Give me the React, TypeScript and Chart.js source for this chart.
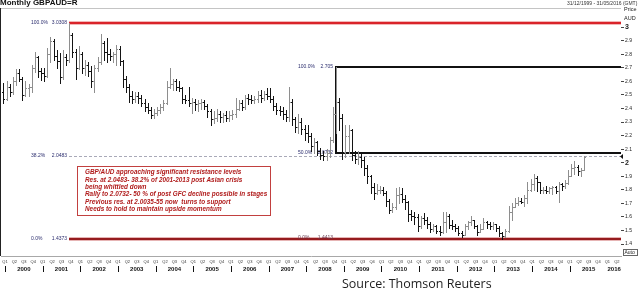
import React, { useEffect, useRef } from 'react';
import { Chart, registerables } from 'chart.js';

Chart.register(...registerables);

const FONT = '"Liberation Sans", Arial, Helvetica, sans-serif';

// One OHLC bar per month, first bar = December 1999, last bar = May 2015
const firstYear = 1999;
const firstMonth = 12;

const opens = [
  2.52,
  2.47, 2.56, 2.52, 2.60, 2.66, 2.62, 2.50, 2.55, 2.56, 2.70, 2.78, 2.68,
  2.66, 2.64, 2.80, 2.90, 2.79, 2.75, 2.63, 2.78, 2.76, 2.94, 2.82, 2.70,
  2.80, 2.70, 2.72, 2.68, 2.60, 2.70, 2.74, 2.88, 2.82, 2.80, 2.79, 2.80,
  2.84, 2.75, 2.62, 2.56, 2.49, 2.47, 2.49, 2.48, 2.44, 2.41, 2.39, 2.35,
  2.37, 2.39, 2.41, 2.44, 2.56, 2.58, 2.60, 2.56, 2.55, 2.47, 2.46, 2.44,
  2.45, 2.43, 2.44, 2.45, 2.42, 2.38, 2.32, 2.33, 2.36, 2.34, 2.35, 2.33,
  2.35, 2.36, 2.40, 2.44, 2.41, 2.48, 2.47, 2.46, 2.47, 2.50, 2.48, 2.51,
  2.49, 2.47, 2.42, 2.39, 2.38, 2.36, 2.34, 2.45, 2.32, 2.26, 2.30, 2.25,
  2.22, 2.20, 2.12, 2.15, 2.09, 2.06, 2.05, 2.07, 2.17, 2.36, 2.45, 2.33,
  2.08, 2.20, 2.24, 2.06, 2.03, 2.04, 2.02, 1.96, 1.90, 1.82, 1.78, 1.80,
  1.80, 1.78, 1.72, 1.65, 1.67, 1.76, 1.77, 1.73, 1.71, 1.62, 1.61, 1.60,
  1.53, 1.59, 1.58, 1.55, 1.51, 1.53, 1.50, 1.49, 1.56, 1.61, 1.54, 1.53,
  1.52, 1.48, 1.47, 1.53, 1.56, 1.58, 1.53, 1.49, 1.51, 1.56, 1.55, 1.53,
  1.55, 1.52, 1.48, 1.46, 1.50, 1.64, 1.67, 1.70, 1.72, 1.71, 1.74, 1.80,
  1.84, 1.89, 1.86, 1.80, 1.80, 1.79, 1.81, 1.82, 1.79, 1.84, 1.83, 1.85,
  1.90, 1.96, 1.97, 1.94, 1.95,
];

const highs = [
  2.59,
  2.60, 2.58, 2.63, 2.69, 2.69, 2.63, 2.60, 2.58, 2.72, 2.82, 2.79, 2.70,
  2.70, 2.85, 2.93, 2.91, 2.83, 2.81, 2.83, 2.80, 3.0308, 2.96, 2.84, 2.86,
  2.82, 2.76, 2.74, 2.71, 2.72, 2.78, 2.95, 2.90, 2.92, 2.84, 2.82, 2.87,
  2.86, 2.76, 2.64, 2.58, 2.53, 2.52, 2.52, 2.50, 2.47, 2.44, 2.41, 2.40,
  2.41, 2.43, 2.46, 2.60, 2.70, 2.62, 2.62, 2.60, 2.56, 2.50, 2.56, 2.48,
  2.47, 2.46, 2.47, 2.46, 2.43, 2.40, 2.38, 2.40, 2.38, 2.37, 2.38, 2.38,
  2.39, 2.48, 2.46, 2.46, 2.50, 2.51, 2.50, 2.49, 2.53, 2.54, 2.53, 2.55,
  2.55, 2.49, 2.44, 2.42, 2.41, 2.39, 2.56, 2.47, 2.34, 2.36, 2.33, 2.28,
  2.28, 2.22, 2.18, 2.16, 2.11, 2.09, 2.10, 2.19, 2.41, 2.705, 2.48, 2.36,
  2.28, 2.28, 2.25, 2.09, 2.09, 2.07, 2.04, 1.98, 1.91, 1.85, 1.84, 1.83,
  1.82, 1.79, 1.73, 1.70, 1.81, 1.82, 1.81, 1.76, 1.72, 1.65, 1.64, 1.62,
  1.61, 1.63, 1.60, 1.56, 1.55, 1.54, 1.53, 1.64, 1.64, 1.62, 1.58, 1.55,
  1.53, 1.50, 1.55, 1.57, 1.61, 1.58, 1.54, 1.55, 1.59, 1.57, 1.56, 1.56,
  1.55, 1.53, 1.49, 1.51, 1.68, 1.70, 1.74, 1.75, 1.74, 1.76, 1.86, 1.88,
  1.92, 1.90, 1.86, 1.82, 1.83, 1.82, 1.83, 1.83, 1.86, 1.85, 1.87, 1.95,
  1.99, 2.01, 1.98, 1.96, 2.05,
];

const lows = [
  2.44,
  2.46, 2.49, 2.51, 2.57, 2.60, 2.46, 2.49, 2.49, 2.52, 2.67, 2.63, 2.61,
  2.60, 2.63, 2.74, 2.76, 2.70, 2.59, 2.62, 2.72, 2.74, 2.78, 2.62, 2.69,
  2.66, 2.65, 2.64, 2.56, 2.52, 2.68, 2.73, 2.76, 2.74, 2.76, 2.74, 2.72,
  2.72, 2.56, 2.52, 2.45, 2.44, 2.45, 2.44, 2.42, 2.38, 2.37, 2.33, 2.33,
  2.35, 2.37, 2.39, 2.43, 2.55, 2.54, 2.54, 2.53, 2.44, 2.44, 2.42, 2.37,
  2.39, 2.38, 2.40, 2.40, 2.34, 2.28, 2.29, 2.31, 2.30, 2.30, 2.31, 2.31,
  2.32, 2.34, 2.39, 2.39, 2.40, 2.43, 2.44, 2.44, 2.45, 2.45, 2.46, 2.47,
  2.45, 2.39, 2.36, 2.35, 2.32, 2.31, 2.31, 2.28, 2.23, 2.22, 2.21, 2.17,
  2.15, 2.09, 2.07, 2.06, 2.03, 2.02, 2.02, 2.04, 2.15, 2.22, 2.24, 2.03,
  2.04, 2.07, 2.02, 2.00, 1.99, 1.97, 1.91, 1.85, 1.78, 1.73, 1.77, 1.78,
  1.76, 1.68, 1.63, 1.64, 1.66, 1.70, 1.71, 1.66, 1.57, 1.58, 1.55, 1.50,
  1.52, 1.55, 1.52, 1.49, 1.50, 1.48, 1.47, 1.48, 1.49, 1.52, 1.51, 1.50,
  1.47, 1.455, 1.47, 1.51, 1.54, 1.52, 1.47, 1.49, 1.51, 1.52, 1.51, 1.51,
  1.50, 1.46, 1.4373, 1.45, 1.49, 1.58, 1.67, 1.69, 1.70, 1.68, 1.70, 1.79,
  1.80, 1.79, 1.78, 1.78, 1.78, 1.78, 1.77, 1.78, 1.71, 1.80, 1.81, 1.84,
  1.90, 1.92, 1.91, 1.90, 1.95,
];

const closes = [
  2.47,
  2.56, 2.52, 2.60, 2.66, 2.62, 2.50, 2.55, 2.56, 2.70, 2.78, 2.68, 2.66,
  2.64, 2.80, 2.90, 2.79, 2.75, 2.63, 2.78, 2.76, 2.94, 2.82, 2.70, 2.80,
  2.70, 2.72, 2.68, 2.60, 2.70, 2.74, 2.88, 2.82, 2.80, 2.79, 2.80, 2.84,
  2.75, 2.62, 2.56, 2.49, 2.47, 2.49, 2.48, 2.44, 2.41, 2.39, 2.35, 2.37,
  2.39, 2.41, 2.44, 2.56, 2.58, 2.60, 2.56, 2.55, 2.47, 2.46, 2.44, 2.45,
  2.43, 2.44, 2.45, 2.42, 2.38, 2.32, 2.33, 2.36, 2.34, 2.35, 2.33, 2.35,
  2.36, 2.40, 2.44, 2.41, 2.48, 2.47, 2.46, 2.47, 2.50, 2.48, 2.51, 2.49,
  2.47, 2.42, 2.39, 2.38, 2.36, 2.34, 2.45, 2.32, 2.26, 2.30, 2.25, 2.22,
  2.20, 2.12, 2.15, 2.09, 2.06, 2.05, 2.07, 2.17, 2.36, 2.45, 2.33, 2.08,
  2.20, 2.24, 2.06, 2.03, 2.04, 2.02, 1.96, 1.90, 1.82, 1.78, 1.80, 1.80,
  1.78, 1.72, 1.65, 1.67, 1.76, 1.77, 1.73, 1.71, 1.62, 1.61, 1.60, 1.53,
  1.59, 1.58, 1.55, 1.51, 1.53, 1.50, 1.49, 1.56, 1.61, 1.54, 1.53, 1.52,
  1.48, 1.47, 1.53, 1.56, 1.58, 1.53, 1.49, 1.51, 1.56, 1.55, 1.53, 1.55,
  1.52, 1.48, 1.46, 1.50, 1.64, 1.67, 1.70, 1.72, 1.71, 1.74, 1.80, 1.84,
  1.89, 1.86, 1.80, 1.80, 1.79, 1.81, 1.82, 1.79, 1.84, 1.83, 1.85, 1.90,
  1.96, 1.97, 1.94, 1.95, 2.04,
];

const yTicks = [1.4, 1.5, 1.6, 1.7, 1.8, 1.9, 2, 2.1, 2.2, 2.3, 2.4, 2.5, 2.6, 2.7, 2.8, 2.9, 3];
const yearLabels = [2000, 2001, 2002, 2003, 2004, 2005, 2006, 2007, 2008, 2009, 2010, 2011, 2012, 2013, 2014, 2015, 2016];
const quarterNames = ['Q1', 'Q2', 'Q3', 'Q4'];

// Fibonacci retracements
const redFibStart = '2001-09';
const redFibPcts = ['100.0%', '38.2%', '0.0%'];
const redFibValues = [3.0308, 2.0483, 1.4373];
const blackFibStart = '2008-10';
const blackFibPcts = ['100.0%', '50.0%', '0.0%'];
const blackFibValues = [2.705, 2.0732, 1.4413];

const noteLines = [
  'GBP/AUD approaching significant resistance levels',
  'Res. at 2.0483- 38.2% of 2001-2013 post Asian crisis',
  'being whittled down',
  'Rally to 2.0732- 50 % of post GFC decline possible in stages',
  'Previous res. at 2.0035-55 now  turns to support',
  'Needs to hold to maintain upside momentum',
];

const titleText = 'Monthly GBPAUD=R';
const rangeText = '31/12/1999 - 31/05/2016 (GMT)';
const unitLines = ['Price', 'AUD'];
const sourceText = 'Source: Thomson Reuters';

const X_MIN = 1999.8938;
const X_MAX = 2016.3612;
const Y_MIN = 1.3119;
const Y_MAX = 3.1415;

const UP_COLOR = '#8e8e8e';
const DOWN_COLOR = '#141414';

function monthX(k: number) {
  const m = firstMonth - 1 + k;
  return firstYear + (m + 0.5) / 12;
}
function dateX(s: string) {
  const [y, m] = s.split('-').map(Number);
  return y + (m - 1 + 0.5) / 12;
}

const quarterTicks = yearLabels
  .flatMap((y) => [0, 1, 2, 3].map((q) => y + q / 4))
  .filter((v) => v <= X_MAX);

const ohlcPlugin = {
  id: 'ohlc',
  beforeDatasetsDraw(chart: any) {
    const { ctx, chartArea: ca, scales } = chart;
    const x = scales.x;
    const y = scales.y;
    ctx.save();
    // frame
    ctx.fillStyle = '#c4c4c4';
    ctx.fillRect(0, ca.top, ca.right, 1);
    ctx.fillStyle = '#222';
    ctx.fillRect(0, ca.top, 1, ca.bottom - ca.top);

    // red fib
    const rx = Math.round(x.getPixelForValue(dateX(redFibStart)));
    redFibValues.forEach((v, i) => {
      const py = Math.round(y.getPixelForValue(v));
      if (i === 1) {
        ctx.strokeStyle = '#a9a9b8';
        ctx.lineWidth = 1;
        ctx.setLineDash([3, 2]);
        ctx.beginPath();
        ctx.moveTo(rx, py + 0.5);
        ctx.lineTo(ca.right, py + 0.5);
        ctx.stroke();
        ctx.setLineDash([]);
      } else {
        ctx.fillStyle = i === 0 ? '#f3b7b7' : '#e6b4b4';
        ctx.fillRect(rx, py - 2, ca.right - rx, 4);
        ctx.fillStyle = i === 0 ? '#d9232a' : '#951b1e';
        ctx.fillRect(rx, py - 1, ca.right - rx, 2);
      }
      ctx.fillStyle = '#2b2d6e';
      ctx.font = `5px ${FONT}`;
      ctx.textBaseline = 'middle';
      ctx.textAlign = 'left';
      ctx.fillText(redFibPcts[i], rx - 38, py);
      ctx.textAlign = 'right';
      ctx.fillText(String(v.toFixed(4)), rx - 2, py);
    });

    // black fib
    const bx = Math.round(x.getPixelForValue(dateX(blackFibStart)));
    const bTop = Math.round(y.getPixelForValue(blackFibValues[0]));
    const bMid = Math.round(y.getPixelForValue(blackFibValues[1]));
    ctx.fillStyle = '#111';
    ctx.fillRect(bx - 1, bTop - 1, ca.right - bx + 1, 2);
    ctx.fillRect(bx - 1, bMid - 1, ca.right - bx + 1, 2);
    ctx.fillRect(bx - 1, bTop - 1, 2, bMid - bTop + 1);
    blackFibValues.forEach((v, i) => {
      const py = Math.round(y.getPixelForValue(v));
      ctx.fillStyle = i === 2 ? '#6a3a50' : '#2b2d6e';
      ctx.font = `5px ${FONT}`;
      ctx.textBaseline = 'middle';
      ctx.textAlign = 'left';
      ctx.fillText(blackFibPcts[i], bx - 38, py);
      ctx.textAlign = 'right';
      const txt = i === 0 ? String(v) : v.toFixed(4);
      ctx.fillText(txt, bx - 3, py);
    });
    ctx.restore();
  },
  afterDatasetsDraw(chart: any) {
    const { ctx, chartArea: ca, scales } = chart;
    const x = scales.x;
    const y = scales.y;
    ctx.save();
    ctx.beginPath();
    ctx.rect(ca.left, ca.top, ca.right - ca.left, ca.bottom - ca.top);
    ctx.clip();
    for (let k = 0; k < closes.length; k++) {
      const px = Math.round(x.getPixelForValue(monthX(k)));
      const yh = Math.round(y.getPixelForValue(highs[k]));
      const yl = Math.round(y.getPixelForValue(lows[k]));
      const yo = Math.round(y.getPixelForValue(opens[k]));
      const yc = Math.round(y.getPixelForValue(closes[k]));
      ctx.fillStyle = closes[k] >= opens[k] ? UP_COLOR : DOWN_COLOR;
      ctx.fillRect(px, yh, 1, Math.max(1, yl - yh + 1));
      ctx.fillRect(px - 1, yo, 1, 1);
      ctx.fillRect(px + 1, yc, 1, 1);
    }
    ctx.restore();
  },
  afterDraw(chart: any) {
    const { ctx, chartArea: ca, scales } = chart;
    const x = scales.x;
    const y = scales.y;
    ctx.save();

    // note box
    ctx.strokeStyle = '#c2403f';
    ctx.lineWidth = 1;
    ctx.strokeRect(77.5, 166.5, 193, 49);
    ctx.fillStyle = '#b01c1c';
    ctx.font = `italic bold 6.4px ${FONT}`;
    ctx.textAlign = 'left';
    ctx.textBaseline = 'middle';
    noteLines.forEach((t, i) => ctx.fillText(t, 85, 172.7 + i * 7.3));

    // years and separators
    ctx.fillStyle = '#111';
    ctx.font = `bold 6px ${FONT}`;
    ctx.textAlign = 'center';
    yearLabels.forEach((yr) => {
      const s = x.getPixelForValue(yr);
      const e = Math.min(x.getPixelForValue(yr + 1), ca.right);
      ctx.fillText(String(yr), (s + e) / 2, 269.5);
      if (yr < 2016) ctx.fillRect(Math.round(s), 266, 1, 6);
    });

    // title + range
    ctx.textAlign = 'left';
    ctx.textBaseline = 'alphabetic';
    ctx.font = `bold 8px ${FONT}`;
    ctx.fillStyle = '#111';
    ctx.fillText(titleText, 0, 5);
    ctx.font = `5px ${FONT}`;
    ctx.fillStyle = '#333';
    ctx.fillText(rangeText, 567, 5);

    // unit label
    ctx.font = `5.5px ${FONT}`;
    ctx.fillStyle = '#222';
    ctx.textBaseline = 'middle';
    unitLines.forEach((t, i) => ctx.fillText(t, 624, 9.5 + i * 8.5));

    // current price marker
    const my = Math.round(y.getPixelForValue(redFibValues[1]));
    ctx.fillStyle = '#111';
    ctx.beginPath();
    ctx.moveTo(ca.right - 1, my + 0.5);
    ctx.lineTo(ca.right + 2, my - 2);
    ctx.lineTo(ca.right + 2, my + 3);
    ctx.closePath();
    ctx.fill();

    // Auto box
    ctx.strokeStyle = '#666';
    ctx.strokeRect(623.5, 249.5, 14, 6);
    ctx.fillStyle = '#222';
    ctx.font = `5px ${FONT}`;
    ctx.fillText('Auto', 624.5, 252.8);

    // source
    ctx.font = `12.5px "Open Sans", ${FONT}`;
    ctx.fillStyle = '#1e1e1e';
    ctx.textBaseline = 'alphabetic';
    ctx.fillText(sourceText, 342, 287.5);
    ctx.restore();
  },
};

export default function App() {
  const ref = useRef<HTMLCanvasElement | null>(null);
  useEffect(() => {
    const canvas = ref.current;
    if (!canvas) return;
    const chart = new Chart(canvas, {
      type: 'line',
      data: {
        datasets: [
          {
            data: closes.map((c, k) => ({ x: monthX(k), y: c })),
            showLine: false,
            pointRadius: 0,
            borderColor: 'rgba(0,0,0,0)',
            backgroundColor: 'rgba(0,0,0,0)',
          },
        ],
      },
      options: {
        animation: false,
        responsive: false,
        maintainAspectRatio: false,
        events: [],
        layout: { padding: { left: 1, top: 8, right: 0, bottom: 0 } },
        plugins: { legend: { display: false }, tooltip: { enabled: false }, title: { display: false } },
        scales: {
          x: {
            type: 'linear',
            min: X_MIN,
            max: X_MAX,
            afterBuildTicks: (s: any) => {
              s.ticks = quarterTicks.map((value) => ({ value }));
            },
            afterFit: (s: any) => {
              s.height = 46;
              s.paddingLeft = 0;
              s.paddingRight = 0;
            },
            ticks: {
              autoSkip: false,
              maxRotation: 0,
              minRotation: 0,
              padding: 3,
              color: '#333',
              font: { size: 4, family: FONT },
              callback: (v: any) => {
                const val = Number(v);
                const q = Math.round((val - Math.floor(val + 1e-6)) * 4);
                return quarterNames[((q % 4) + 4) % 4];
              },
            },
            grid: { display: false, drawTicks: false },
            border: { display: true, color: '#a8a8a8' },
          },
          y: {
            type: 'linear',
            position: 'right',
            min: Y_MIN,
            max: Y_MAX,
            afterBuildTicks: (s: any) => {
              s.ticks = yTicks.map((value) => ({ value }));
            },
            afterFit: (s: any) => {
              s.width = 19;
              s.paddingTop = 0;
              s.paddingBottom = 0;
            },
            ticks: {
              padding: 1,
              color: '#222',
              font: (c: any) => {
                const v = c.tick ? c.tick.value : 0;
                const isInt = Math.abs(v - Math.round(v)) < 1e-9;
                return isInt ? { size: 7, family: FONT, weight: 'bold' } : { size: 5, family: FONT };
              },
              callback: (v: any) => {
                const val = Number(v);
                return Math.abs(val - Math.round(val)) < 1e-9 ? String(Math.round(val)) : val.toFixed(1);
              },
            },
            grid: { drawOnChartArea: false, drawTicks: true, tickLength: 3, color: '#444' },
            border: { display: false },
          },
        },
      },
      plugins: [ohlcPlugin],
    });
    return () => chart.destroy();
  }, []);

  return (
    <div style={{ position: 'fixed', left: 0, top: 0, width: 640, height: 302, background: '#fff' }}>
      <canvas ref={ref} width={640} height={302} style={{ display: 'block', width: 640, height: 302 }} />
    </div>
  );
}
